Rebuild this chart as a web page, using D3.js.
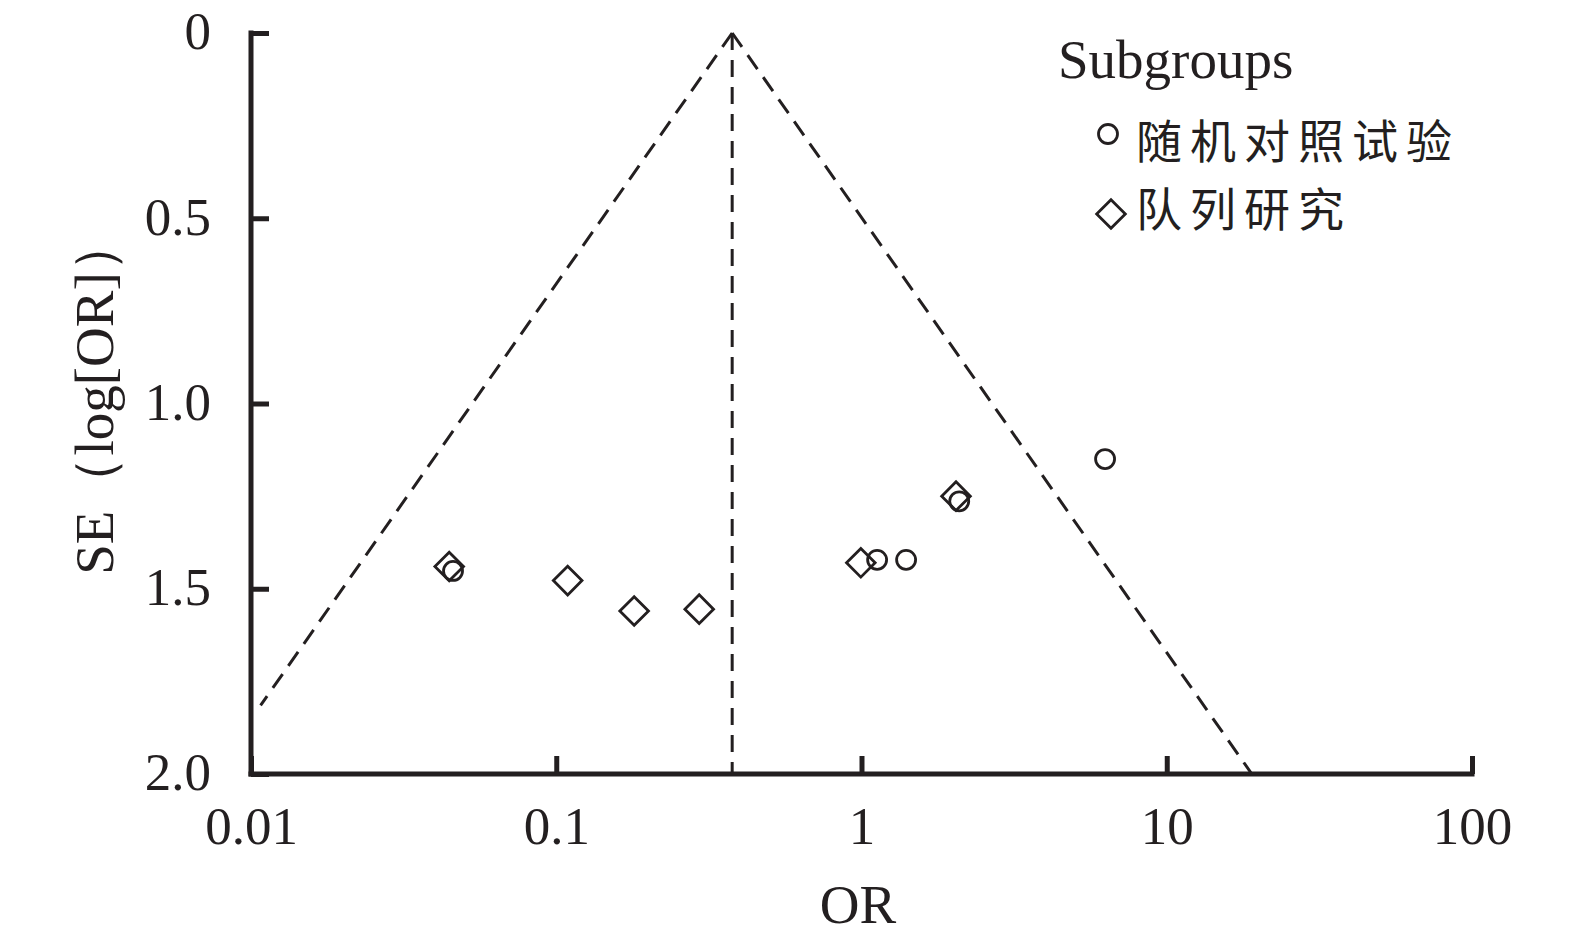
<!DOCTYPE html>
<html><head><meta charset="utf-8">
<script src="https://cdn.jsdelivr.net/npm/d3@7"></script>
<style>body{margin:0;background:#fff}svg{display:block}</style>
</head><body>
<svg id="c" width="1575" height="947"></svg>
<script>
const xTicks = [0.01, 0.1, 1, 10, 100];
const xTickLabels = ["0.01", "0.1", "1", "10", "100"];
const yTicks = [0, 0.5, 1.0, 1.5, 2.0];
const yTickLabels = ["0", "0.5", "1.0", "1.5", "2.0"];
const pooledOR = 0.377;
const rctOR = [0.0459, 1.125, 1.40, 2.09, 6.28];
const rctSE = [1.452, 1.422, 1.422, 1.264, 1.150];
const cohortOR = [0.0446, 0.109, 0.180, 0.294, 0.995, 2.04];
const cohortSE = [1.440, 1.478, 1.560, 1.555, 1.430, 1.250];
const legendTitle = "Subgroups";
const legendLabels = ["随机对照试验", "队列研究"];

const ink = "#231f20";
const serif = "'Liberation Serif','DejaVu Serif',serif";
const cjk = "'Noto Sans CJK SC',sans-serif";
const svg = d3.select("#c");
const x = d3.scaleLog().domain([0.01, 100]).range([251, 1472]);
const y = d3.scaleLinear().domain([0, 2]).range([33, 774]);

svg.append("clipPath").attr("id","pa").append("rect")
  .attr("x",251).attr("y",20).attr("width",1221).attr("height",754);

const g = svg.append("g").attr("clip-path","url(#pa)");
const lnP = Math.log(pooledOR);
const seMax = 2;
const lineGen = d3.line().x(d=>x(d[0])).y(d=>y(d[1]));
const leftEnd = Math.exp(lnP - 1.96*1.815);
const dash = l => l.attr("fill","none").attr("stroke",ink).attr("stroke-width",3).attr("stroke-dasharray","17,10");
dash(g.append("path").attr("d", lineGen([[pooledOR,0],[leftEnd,1.815]])));
dash(g.append("path").attr("d", lineGen([[pooledOR,0],[Math.exp(lnP+1.96*seMax),seMax]])));
dash(g.append("path").attr("d", lineGen([[pooledOR,0],[pooledOR,seMax]])));

// axes
const xAxis = d3.axisBottom(x).tickValues(xTicks).tickFormat((d,i)=>xTickLabels[i]).tickSizeInner(-18).tickSizeOuter(0).tickPadding(38);
const yAxis = d3.axisLeft(y).tickValues(yTicks).tickFormat((d,i)=>yTickLabels[i]).tickSizeInner(-18).tickSizeOuter(0).tickPadding(40);
const gx = svg.append("g").attr("transform","translate(0,774)").call(xAxis);
const gy = svg.append("g").attr("transform","translate(251,0)").call(yAxis);
[gx,gy].forEach(a=>{
  a.select(".domain").attr("stroke",ink).attr("stroke-width",5);
  a.selectAll(".tick line").attr("stroke",ink).attr("stroke-width",5);
  a.selectAll(".tick text").attr("fill",ink).attr("font-family",serif).attr("font-size",53);
});
gx.selectAll(".tick text").attr("dy","0.6em");
gy.selectAll(".tick text").attr("dy","0.3em");
gx.select(".domain").attr("d","M248.5,0H1474.5");
gy.select(".domain").attr("d","M0,30.5V776.5");

// axis titles
svg.append("text").attr("x",858).attr("y",923).attr("text-anchor","middle")
  .attr("font-family",serif).attr("font-size",55).attr("fill",ink).text("OR");
svg.append("text").attr("transform","translate(113,396) rotate(-90)").attr("text-anchor","middle")
  .attr("font-family",serif).attr("font-size",55).attr("fill",ink)
  .text("SE（log[OR]）");

// points
const diamond = d3.symbol().type(d3.symbolSquare).size(410);
svg.append("g").selectAll("path").data(cohortOR.map((o,i)=>[o,cohortSE[i]])).join("path")
  .attr("d", diamond()).attr("transform",d=>`translate(${x(d[0])},${y(d[1])}) rotate(45)`)
  .attr("fill","none").attr("stroke",ink).attr("stroke-width",2.8);
svg.append("g").selectAll("circle").data(rctOR.map((o,i)=>[o,rctSE[i]])).join("circle")
  .attr("cx",d=>x(d[0])).attr("cy",d=>y(d[1])).attr("r",9.5)
  .attr("fill","none").attr("stroke",ink).attr("stroke-width",2.8);

// legend
const lg = svg.append("g");
lg.append("text").attr("x",1058).attr("y",78).attr("font-family",serif).attr("font-size",55).attr("fill",ink).text(legendTitle);
lg.append("circle").attr("cx",1108).attr("cy",134).attr("r",9.5).attr("fill","none").attr("stroke",ink).attr("stroke-width",2.8);
lg.append("text").attr("x",1136).attr("y",143).attr("dy","0.32em").attr("font-family",cjk).attr("font-size",46).attr("letter-spacing",8).attr("fill",ink).text(legendLabels[0]);
lg.append("path").attr("d", diamond()).attr("transform","translate(1111,214) rotate(45)")
  .attr("fill","none").attr("stroke",ink).attr("stroke-width",2.8);
lg.append("text").attr("x",1136).attr("y",211).attr("dy","0.32em").attr("font-family",cjk).attr("font-size",46).attr("letter-spacing",8).attr("fill",ink).text(legendLabels[1]);
</script>
</body></html>
